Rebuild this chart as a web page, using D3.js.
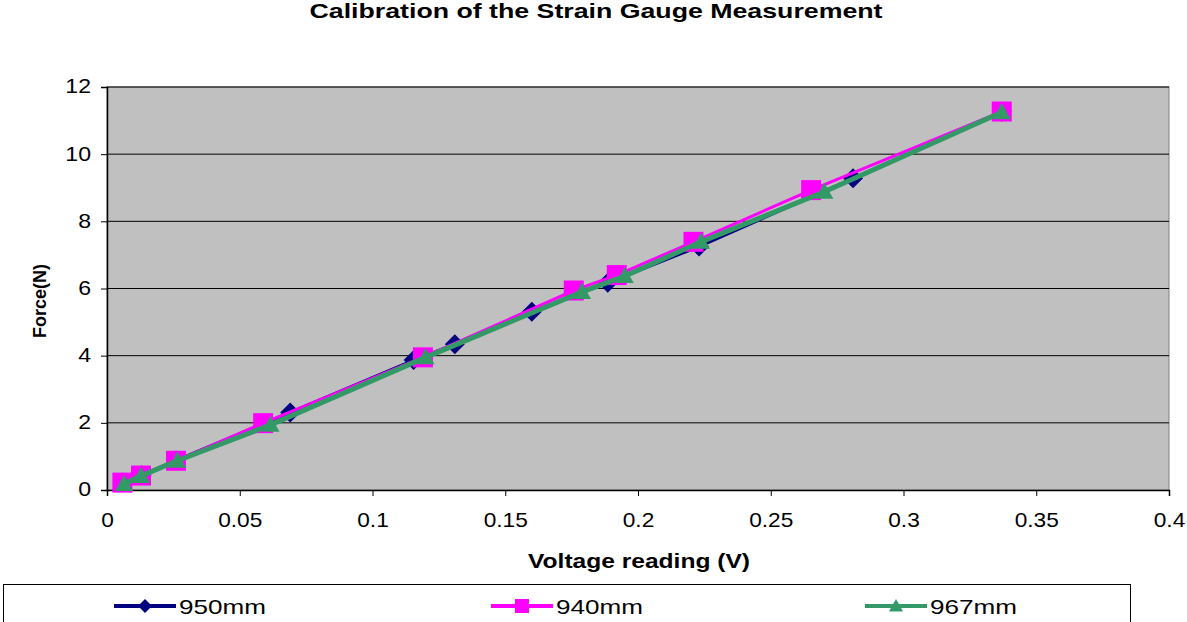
<!DOCTYPE html>
<html>
<head>
<meta charset="utf-8">
<script src="https://cdn.jsdelivr.net/npm/d3@7"></script>
<style>
  body { margin: 0; background: #fff; }
  text { font-family: "Liberation Sans", Arial, sans-serif; }
</style>
</head>
<body>
<div id="chart"></div>
<script>
// voltage readings (V) and forces (N) per series
var volts950 = [0.006, 0.013, 0.026, 0.069, 0.1155, 0.131, 0.160, 0.1886, 0.223, 0.281, 0.337];
var force950 = [0.22, 0.44, 0.88, 2.31, 3.87, 4.34, 5.31, 6.17, 7.25, 9.28, 11.26];
var volts940 = [0.0058, 0.0128, 0.026, 0.0588, 0.119, 0.1758, 0.192, 0.2209, 0.2652, 0.337];
var force940 = [0.22, 0.43, 0.87, 1.99, 3.95, 5.94, 6.40, 7.39, 8.93, 11.27];
var volts967 = [0.0064, 0.0128, 0.0265, 0.0616, 0.120, 0.1789, 0.195, 0.2237, 0.2702, 0.337];
var force967 = [0.18, 0.42, 0.87, 1.94, 3.95, 5.90, 6.37, 7.39, 8.88, 11.25];
var xTicks = [0, 0.05, 0.1, 0.15, 0.2, 0.25, 0.3, 0.35, 0.4];
var yTicks = [0, 2, 4, 6, 8, 10, 12];

var series = [
    { name: "950mm", xs: volts950, ys: force950, color: "#000080", marker: "diamond", width: 3, r: 10 },
    { name: "940mm", xs: volts940, ys: force940, color: "#FF00FF", marker: "square", width: 3, r: 10 },
    { name: "967mm", xs: volts967, ys: force967, color: "#339966", marker: "triangle", width: 5, r: 9 }
];

var W = 1187, H = 622;
var plotL = 107, plotR = 1169, plotT = 87, plotB = 490;

var x = d3.scaleLinear().domain([0, 0.4]).range([plotL, plotR]);
var y = d3.scaleLinear().domain([0, 12]).range([plotB, plotT]);

var svg = d3.select("#chart").append("svg")
    .attr("width", W)
    .attr("height", H);

// the source picture is a little wider than its fonts, so stretch text sideways
function stretch(sel, k) {
    sel.each(function () {
        var len = this.getComputedTextLength();
        d3.select(this).attr("textLength", len * k).attr("lengthAdjust", "spacingAndGlyphs");
    });
}

svg.append("text")
    .attr("x", 596).attr("y", 18)
    .attr("text-anchor", "middle")
    .attr("font-size", 21).attr("font-weight", "bold")
    .attr("textLength", 573).attr("lengthAdjust", "spacingAndGlyphs")
    .text("Calibration of the Strain Gauge Measurement");

// plot area
svg.append("rect")
    .attr("x", plotL).attr("y", plotT)
    .attr("width", plotR - plotL).attr("height", plotB - plotT)
    .attr("fill", "#C0C0C0")
    .attr("stroke", "#808080").attr("stroke-width", 1);

// gridlines
svg.selectAll(".grid")
    .data(yTicks.filter(d => d > 0)).enter().append("line")
    .attr("x1", plotL).attr("x2", plotR)
    .attr("y1", d => y(d)).attr("y2", d => y(d))
    .attr("stroke", "#000").attr("stroke-width", 1);

var xAxis = d3.axisBottom(x).tickValues(xTicks).tickSize(6).tickFormat(d => String(d));
var yAxis = d3.axisLeft(y).tickValues(yTicks).tickSize(6).tickFormat(d3.format("d"));

var gx = svg.append("g")
    .attr("transform", "translate(0," + plotB + ")")
    .call(xAxis);
var gy = svg.append("g")
    .attr("transform", "translate(" + plotL + ",0)")
    .call(yAxis);

[gx, gy].forEach(function (g) {
    g.select(".domain").attr("stroke", "#000").attr("stroke-width", 1.5);
    g.selectAll(".tick line").attr("stroke", "#000");
    g.selectAll(".tick text")
        .attr("font-size", 21)
        .attr("font-family", "Liberation Sans, Arial, sans-serif")
        .attr("fill", "#000");
});
gx.selectAll(".tick text").attr("y", 22);
gy.selectAll(".tick text").attr("x", -16).attr("dy", "0.28em");
stretch(gx.selectAll(".tick text"), 1.08);
stretch(gy.selectAll(".tick text"), 1.1);

// axis titles
svg.append("text")
    .attr("x", 639).attr("y", 568)
    .attr("text-anchor", "middle")
    .attr("font-size", 21).attr("font-weight", "bold")
    .attr("textLength", 222).attr("lengthAdjust", "spacingAndGlyphs")
    .text("Voltage reading (V)");
svg.append("text")
    .attr("transform", "translate(46,301) rotate(-90)")
    .attr("text-anchor", "middle")
    .attr("font-size", 18).attr("font-weight", "bold")
    .text("Force(N)");

function markerPath(type, r) {
    if (type === "diamond") return "M0," + (-r) + "L" + r + ",0L0," + r + "L" + (-r) + ",0Z";
    if (type === "square") return "M" + (-r) + "," + (-r) + "H" + r + "V" + r + "H" + (-r) + "Z";
    return "M0," + (-r) + "L" + r + "," + (r * 0.78) + "L" + (-r) + "," + (r * 0.78) + "Z";
}

var line = d3.line().x(d => x(d[0])).y(d => y(d[1]));

series.forEach(function (s) {
    var pts = s.xs.map((v, i) => [v, s.ys[i]]);
    var g = svg.append("g");
    g.append("path")
        .attr("d", line(pts))
        .attr("fill", "none")
        .attr("stroke", s.color)
        .attr("stroke-width", s.width);
    g.selectAll("path.m")
        .data(pts).enter().append("path")
        .attr("class", "m")
        .attr("d", markerPath(s.marker, s.r))
        .attr("transform", d => "translate(" + x(d[0]) + "," + y(d[1]) + ")")
        .attr("fill", s.color);
});

// legend
svg.append("rect")
    .attr("x", 3.5).attr("y", 584.5)
    .attr("width", 1127).attr("height", 50)
    .attr("fill", "#fff").attr("stroke", "#000").attr("stroke-width", 1);

var legendX = [114, 491, 865];
series.forEach(function (s, i) {
    var lg = svg.append("g").attr("transform", "translate(" + legendX[i] + ",606)");
    lg.append("line")
        .attr("x1", 0).attr("x2", 62)
        .attr("stroke", s.color).attr("stroke-width", 4);
    lg.append("path")
        .attr("d", markerPath(s.marker, 7))
        .attr("transform", "translate(31,0)")
        .attr("fill", s.color);
    lg.append("text")
        .attr("x", 65).attr("y", 7.5)
        .attr("font-size", 21)
        .attr("textLength", 87).attr("lengthAdjust", "spacingAndGlyphs")
        .text(s.name);
});
</script>
</body>
</html>
